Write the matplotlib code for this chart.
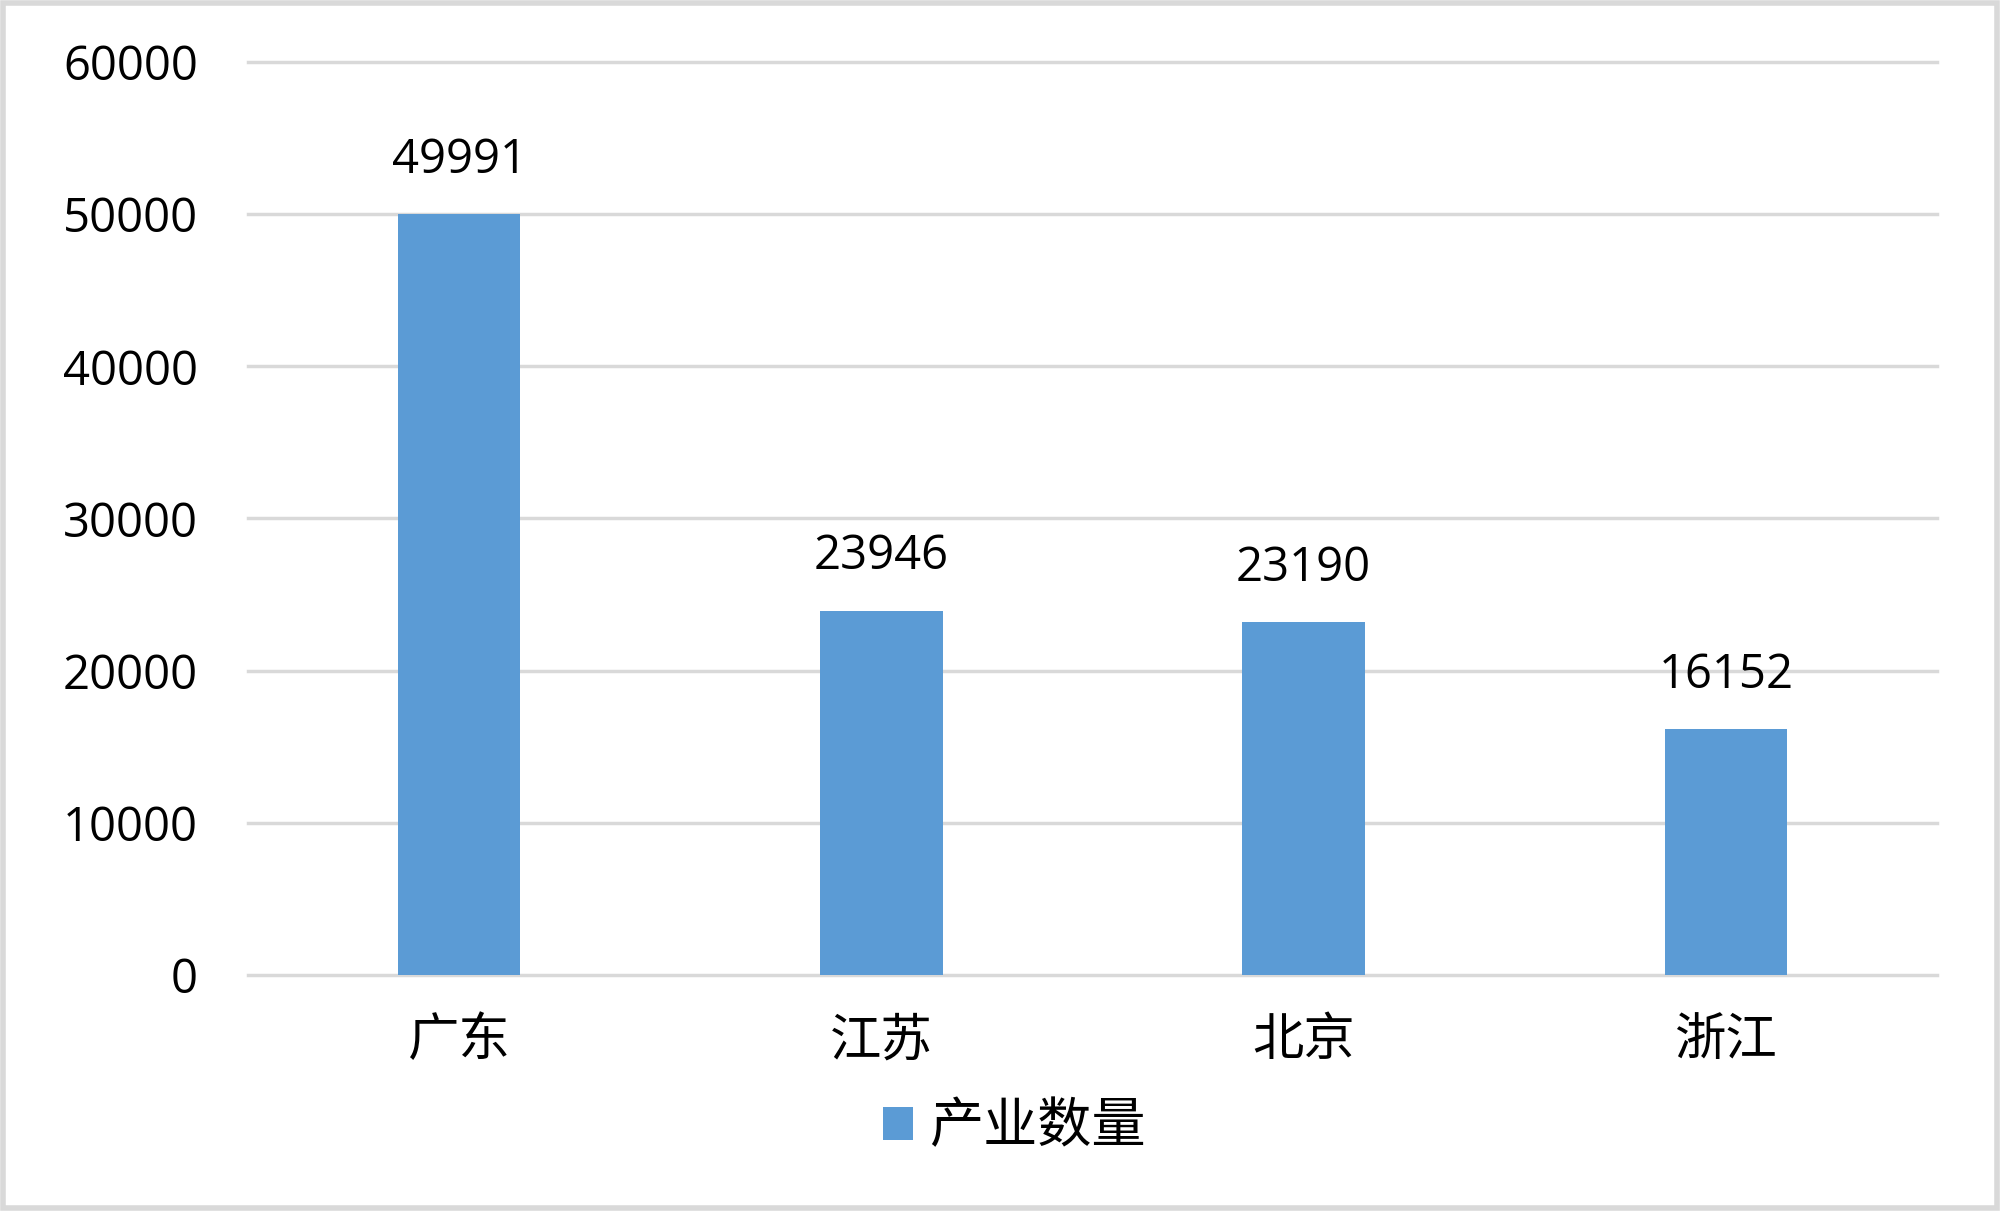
import matplotlib.pyplot as plt
from matplotlib.patches import Rectangle

plt.rcParams['font.family'] = ['Open Sans', 'Noto Sans CJK SC', 'DejaVu Sans']

# 数据
provinces = ['广东', '江苏', '北京', '浙江']
counts = [49991, 23946, 23190, 16152]
yticks = [0, 10000, 20000, 30000, 40000, 50000, 60000]
series_name = '产业数量'

fig = plt.figure(figsize=(20, 12.11), dpi=100)
ax = fig.add_axes([0.124, 0.1949, 0.8445, 0.7539])

ax.set_axisbelow(True)
for t in yticks:
    ax.axhline(t, color='#D9D9D9', lw=2.5, zorder=0, clip_on=False)

x = range(len(provinces))
bars = ax.bar(x, counts, width=0.29, color='#5B9BD5', label=series_name, zorder=2)

for xi, v in zip(x, counts):
    ax.annotate(str(v), (xi, v), xytext=(0, 22), textcoords='offset points',
                ha='center', va='bottom', fontsize=34, color='black')

ax.set_xlim(-0.5, len(provinces) - 0.5)
ax.set_ylim(0, 60000)
ax.set_yticks(yticks)
ax.set_yticklabels([str(t) for t in yticks], fontsize=34)
ax.set_xticks(list(x))
ax.set_xticklabels(provinces, fontsize=37, family=['Noto Sans CJK SC', 'DejaVu Sans'])
ax.tick_params(axis='y', length=0, pad=36)
ax.tick_params(axis='x', length=0, pad=28)
for s in ax.spines.values():
    s.set_visible(False)

leg = fig.legend(handles=[bars], labels=[series_name], loc='center',
                 bbox_to_anchor=(0.507, 1 - 1127 / 1211), frameon=False,
                 prop={'family': ['Noto Sans CJK SC'], 'size': 39},
                 handlelength=0.55, handleheight=0.55, handletextpad=0.3)

# 外框
fig.patches.append(Rectangle((0.0015, 0.0025), 0.997, 0.995, transform=fig.transFigure,
                             fill=False, edgecolor='#D9D9D9', lw=4))

fig.savefig('out.png', dpi=100)
